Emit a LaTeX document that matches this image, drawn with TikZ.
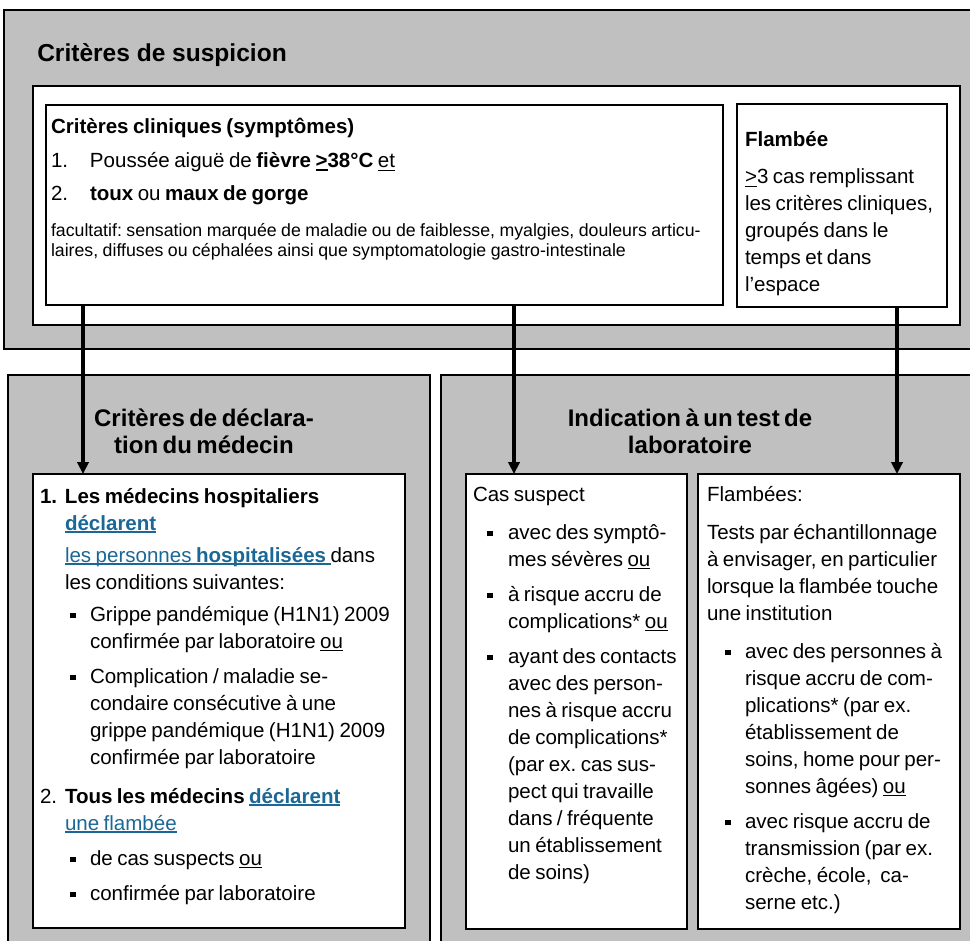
\documentclass[tikz,border=0pt]{standalone}
\usepackage{fontspec}
\setmainfont{Liberation Sans}
\usetikzlibrary{arrows.meta}
\frenchspacing

\definecolor{panelgray}{RGB}{192,192,192}
\definecolor{linkblue}{RGB}{27,104,150}

% one screen pixel
\newlength\px
\setlength\px{0.75pt}

% underline drawn at a fixed depth below the baseline
\newsavebox\ulbox
\newcommand\ul[2][1.2]{\leavevmode\sbox\ulbox{#2}\rlap{\rule[-3\px]{\wd\ulbox}{#1\px}}\usebox\ulbox}
% small square bullet
\newcommand\sqb{\rule[0.13em]{0.28em}{0.28em}}

% paragraph helpers: numbered, indented, bulleted
\newcommand\numpar[3]{\noindent\hangindent=#1\px\hangafter=0\llap{\makebox[#1\px][l]{#2}}#3\par}
\newcommand\indpar[2]{\noindent\hangindent=#1\px\hangafter=0 #2\par}
\newcommand\bulpar[3]{\noindent\hangindent=#1\px\hangafter=0\llap{\sqb\hspace{#2\px}}#3\par}
\newcommand\vgap[1]{\vspace{#1\px}}

\newcommand\bodyfont{\fontsize{15.4pt}{20.25pt}\selectfont}
\newcommand\smallbody{\fontsize{13.3pt}{15pt}\selectfont}
\newcommand\headfont{\fontsize{18pt}{20.5pt}\selectfont\bfseries}

\tikzset{
  rect/.style 2 args={minimum width=#1*0.75pt, minimum height=#2*0.75pt,
    inner sep=0pt, outer sep=0pt, anchor=north west},
  panel/.style={draw=black, line width=1.5pt, fill=panelgray},
  whitebox/.style={draw=black, line width=1.5pt, fill=white},
  txt/.style={anchor=base west, inner sep=0pt, outer sep=0pt, text width=#1*0.75pt},
  headtxt/.style={anchor=base, inner sep=0pt, outer sep=0pt, text width=#1*0.75pt},
  arr/.style={line width=3pt, -{Triangle[length=9pt,width=8.5pt]}},
}

\begin{document}
\begin{tikzpicture}[x=0.75pt,y=-0.75pt]
\useasboundingbox (0,0) rectangle (970,941);
\fill[white] (0,0) rectangle (970,941);
\clip (0,0) rectangle (970,941);

% ---------- suspicion criteria panel ----------
\node[panel, rect={985}{339}] (susp) at (4,10) {};
\node[anchor=base west, inner sep=0pt, font=\fontsize{18.4pt}{22pt}\selectfont\bfseries]
  (susptitle) at (37,62) {Critères de suspicion};
\node[whitebox, rect={927}{239}] (crit) at (33,86) {};
\node[whitebox, rect={677}{200}] (clin) at (46,105) {};
\node[whitebox, rect={210}{203}] (flam) at (737,104) {};

\node[txt=665] (clintxt) at (51,134) {\raggedright\bodyfont
  \textbf{Critères cliniques (symptômes)}\par
  \vgap{7}
  \numpar{39}{1.}{Poussée aiguë de \textbf{fièvre \ul[1.6]{>}38°C} \ul{et}}
  \vgap{6}
  \numpar{39}{2.}{\textbf{toux} ou \textbf{maux de gorge}}
  \vgap{16}
  {\smallbody facultatif: sensation marquée de maladie ou de faiblesse, myalgies, douleurs articu-\newline
  laires, diffuses ou céphalées ainsi que symptomatologie gastro-intestinale\par}};

\node[txt=200] (flamtxt) at (745,147) {\raggedright\bodyfont
  \textbf{Flambée}\par
  \vgap{10}
  \ul{>}3 cas remplissant\newline
  les critères cliniques,\newline
  groupés dans le\newline
  temps et dans\newline
  l’espace\par};

% ---------- notification criteria panel ----------
\node[panel, rect={422}{580}] (decl) at (8,375) {};
\node[headtxt=380] (decltitle) at (204,426) {\centering\headfont
  Critères de déclara-\\tion du médecin\par};
\node[whitebox, rect={372}{454}] (declbox) at (33,474) {};

\node[txt=360] (decltxt) at (40,503) {\raggedright\bodyfont
  \numpar{25}{\textbf{1.}}{\textbf{Les médecins hospitaliers}\newline
    \textcolor{linkblue}{\ul[2]{\textbf{déclarent}}}}
  \vgap{5}
  \indpar{25}{\textcolor{linkblue}{\ul[1.6]{les personnes \textbf{hospitalisées}\ }}dans\newline
    les conditions suivantes:}
  \vgap{5}
  \bulpar{50}{14}{Grippe pandémique (H1N1) 2009\newline
    confirmée par laboratoire \ul{ou}}
  \vgap{8}
  \bulpar{50}{14}{Complication / maladie se-\newline
    condaire consécutive à une\newline
    grippe pandémique (H1N1) 2009\newline
    confirmée par laboratoire}
  \vgap{12}
  \numpar{25}{2.}{\textbf{Tous les médecins} \textcolor{linkblue}{\ul[2]{\textbf{déclarent}}}\newline
    \textcolor{linkblue}{\ul[1.6]{une flambée}}}
  \vgap{8}
  \bulpar{50}{14}{de cas suspects \ul{ou}}
  \vgap{8}
  \bulpar{50}{14}{confirmée par laboratoire}};

% ---------- laboratory test panel ----------
\node[panel, rect={544}{580}] (labo) at (441,375) {};
\node[headtxt=480] (labotitle) at (690,426) {\centering\headfont
  Indication à un test de\\laboratoire\par};
\node[whitebox, rect={221}{455}] (cas) at (466,474) {};
\node[whitebox, rect={262}{455}] (flams) at (698,474) {};

\node[txt=210] (castxt) at (473,501) {\raggedright\bodyfont
  Cas suspect\par
  \vgap{11}
  \bulpar{35}{15}{avec des symptô-\newline mes sévères \ul{ou}}
  \vgap{8}
  \bulpar{35}{15}{à risque accru de\newline complications* \ul{ou}}
  \vgap{8}
  \bulpar{35}{15}{ayant des contacts\newline
    avec des person-\newline
    nes à risque accru\newline
    de complications*\newline
    (par ex. cas sus-\newline
    pect qui travaille\newline
    dans / fréquente\newline
    un établissement\newline
    de soins)}};

\node[txt=250] (flamstxt) at (707,501) {\raggedright\bodyfont
  Flambées:\par
  \vgap{11}
  Tests par échantillonnage\newline
  à envisager, en particulier\newline
  lorsque la flambée touche\newline
  une institution\par
  \vgap{11}
  \bulpar{38}{14}{avec des personnes à\newline
    risque accru de com-\newline
    plications* (par ex.\newline
    établissement de\newline
    soins, home pour per-\newline
    sonnes âgées) \ul{ou}}
  \vgap{8}
  \bulpar{38}{14}{avec risque accru de\newline
    transmission (par ex.\newline
    crèche, école,\ \ ca-\newline
    serne etc.)}};

% ---------- connectors ----------
\coordinate (c1) at (83,0);
\coordinate (c2) at (514,0);
\coordinate (c3) at (897,0);
\draw[arr] (c1 |- clin.south) -- (c1 |- declbox.north);
\draw[arr] (c2 |- clin.south) -- (c2 |- cas.north);
\draw[arr] (c3 |- flam.south) -- (c3 |- flams.north);
\end{tikzpicture}
\end{document}
